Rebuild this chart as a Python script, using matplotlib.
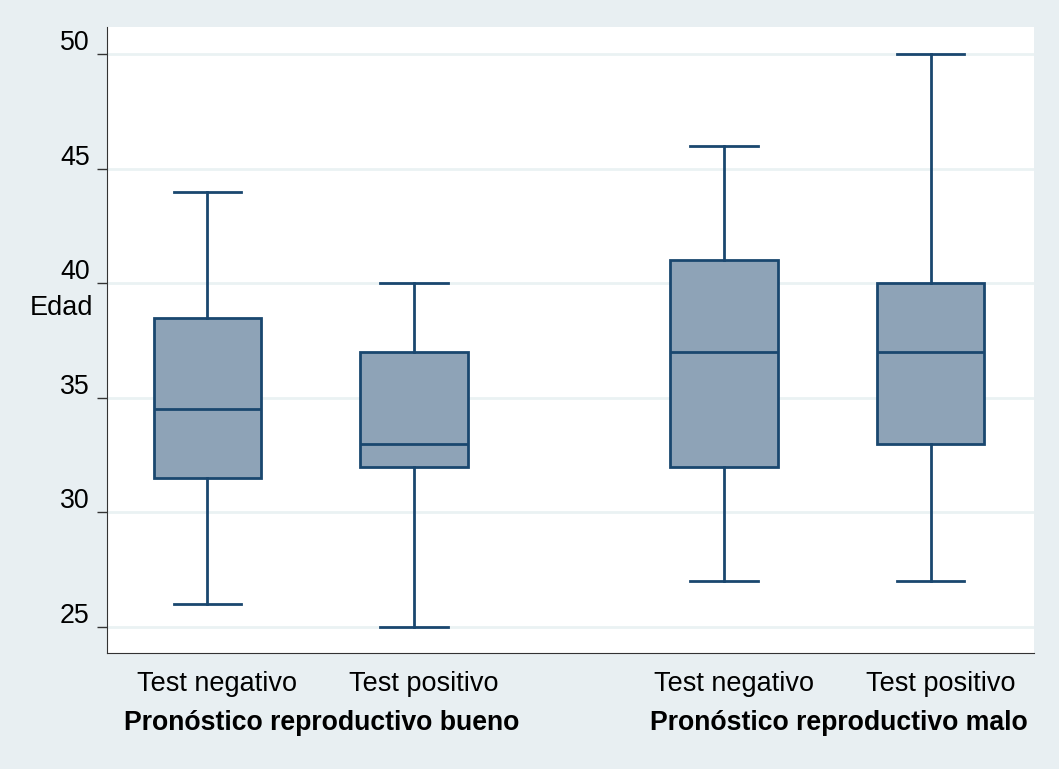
import matplotlib.pyplot as plt
from matplotlib.transforms import ScaledTranslation

plt.rcParams['font.family'] = ['Liberation Sans', 'DejaVu Sans']

# box plot summaries
tests = ['Test negativo', 'Test positivo', 'Test negativo', 'Test positivo']
groups = ['Pronóstico reproductivo bueno', 'Pronóstico reproductivo malo']
lower = [26, 25, 27, 27]
q1 = [31.5, 32, 32, 33]
median = [34.5, 33, 37, 37]
q3 = [38.5, 37, 41, 40]
upper = [44, 40, 46, 50]
yticks = [25, 30, 35, 40, 45, 50]

positions = [1, 2, 3.5, 4.5]
navy = '#1a476f'
bg = '#e8eff2'

fig = plt.figure(figsize=(10.59, 7.69), dpi=100, facecolor=bg)
ax = fig.add_axes([107 / 1059, 1 - 653 / 769, 927 / 1059, 626 / 769])
ax.set_facecolor('white')

stats = []
for i in range(len(tests)):
    stats.append({'whislo': lower[i], 'q1': q1[i], 'med': median[i],
                  'q3': q3[i], 'whishi': upper[i], 'fliers': []})

ax.bxp(stats, positions=positions, widths=0.52, patch_artist=True,
       showfliers=False,
       boxprops=dict(facecolor='#8ea3b7', edgecolor=navy, linewidth=2),
       medianprops=dict(color=navy, linewidth=2),
       whiskerprops=dict(color=navy, linewidth=2),
       capprops=dict(color=navy, linewidth=2), capwidths=0.325)

ax.set_xlim(0.515, 5.0)
ax.set_ylim(23.87, 51.18)
ax.set_yticks(yticks)
ax.yaxis.grid(True, color='#eaf2f3', linewidth=2)
ax.set_axisbelow(True)

for s in ['top', 'right']:
    ax.spines[s].set_visible(False)
ax.spines['left'].set_color('#333333')
ax.spines['bottom'].set_color('#333333')

ax.tick_params(axis='y', length=7.5, width=1, color='#333333', pad=5,
               labelsize=19.3)
ax.tick_params(axis='x', length=0, pad=13, labelsize=19.5)
ax.set_xticks(positions)
ax.set_xticklabels(tests)

shift = ScaledTranslation(0, 0.14, fig.dpi_scale_trans)
for lab in ax.get_yticklabels():
    lab.set_transform(lab.get_transform() + shift)
xshift = ScaledTranslation(0.1, 0, fig.dpi_scale_trans)
for lab in ax.get_xticklabels():
    lab.set_transform(lab.get_transform() + xshift)

fig.text(93 / 1059, 1 - 308 / 769, 'Edad', ha='right', va='center',
         fontsize=19.5)

for g, cx in zip(groups, [1.5, 4.0]):
    ax.annotate(g, xy=(cx, 0), xycoords=('data', 'axes fraction'),
                xytext=(8, -50.5), textcoords='offset points',
                ha='center', va='center', fontsize=19.2, fontweight='bold')

fig.savefig('out.png', dpi=100, facecolor=bg)
